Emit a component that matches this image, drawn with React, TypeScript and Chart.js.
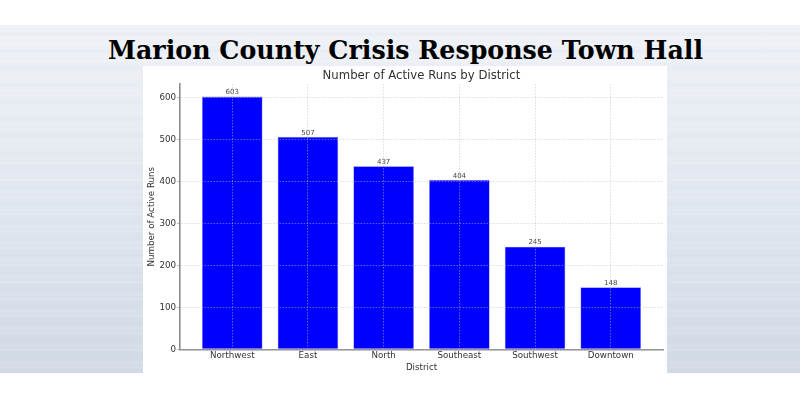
import React, { useEffect, useRef } from "react";
import { Chart, registerables } from "chart.js";

Chart.register(...registerables);

const pageTitle = "Marion County Crisis Response Town Hall";
const chartTitle = "Number of Active Runs by District";
const xAxisTitle = "District";
const yAxisTitle = "Number of Active Runs";
const districts = ["Northwest", "East", "North", "Southeast", "Southwest", "Downtown"];
const activeRuns = [603, 507, 437, 404, 245, 148];
const yTickValues = [0, 100, 200, 300, 400, 500, 600];

const TICK_FONT = { family: "'DejaVu Sans', sans-serif", size: 8.7 };

const valueLabels = {
  id: "valueLabels",
  afterDatasetsDraw(chart: any) {
    const ctx = chart.ctx;
    const meta = chart.getDatasetMeta(0);
    ctx.save();
    ctx.font = "7px 'DejaVu Sans', sans-serif";
    ctx.fillStyle = "#444444";
    ctx.textAlign = "center";
    ctx.textBaseline = "bottom";
    meta.data.forEach((bar: any, i: number) => {
      ctx.fillText(String(activeRuns[i]), bar.x, bar.y - 0.5);
    });
    ctx.restore();
  },
};

export default function App() {
  const canvasRef = useRef<HTMLCanvasElement | null>(null);

  useEffect(() => {
    if (!canvasRef.current) return;
    const chart = new Chart(canvasRef.current, {
      type: "bar",
      data: {
        datasets: [
          {
            data: activeRuns.map((v, i) => ({ x: i, y: v })),
            backgroundColor: "#0000ff",
            borderColor: "rgba(90,90,255,0.8)",
            borderWidth: 0.6,
            barPercentage: 0.8,
            categoryPercentage: 1,
          },
        ],
      },
      options: {
        animation: false,
        responsive: false,
        maintainAspectRatio: false,
        layout: { padding: { left: 0, right: 4, top: 0, bottom: 0 } },
        plugins: {
          legend: { display: false },
          tooltip: { enabled: false },
          title: {
            display: true,
            fullSize: false,
            text: chartTitle,
            color: "#333333",
            font: { family: "'DejaVu Sans', sans-serif", size: 11.7, weight: "normal" },
            padding: { top: 3, bottom: 1 },
          },
        },
        scales: {
          x: {
            type: "linear",
            offset: false,
            min: -0.69,
            max: 5.69,
            afterBuildTicks: (axis: any) => {
              axis.ticks = districts.map((_, i) => ({ value: i }));
            },
            afterFit: (axis: any) => {
              axis.height = 23.7;
            },
            ticks: {
              autoSkip: false,
              maxRotation: 0,
              padding: 1,
              color: "#333333",
              font: TICK_FONT,
              callback: (v: any) => districts[Math.round(Number(v))] ?? "",
            },
            grid: {
              offset: false,
              color: "rgba(190,190,190,0.5)",
              lineWidth: 1,
              drawTicks: false,
              z: 1,
            },
            border: { color: "#8a8a8a", width: 1.6, dash: [1.5, 1.5], z: 1 },
            title: {
              display: true,
              text: xAxisTitle,
              color: "#333333",
              font: TICK_FONT,
              padding: { top: 2, bottom: 0 },
            },
          },
          y: {
            min: 0,
            max: 633,
            afterBuildTicks: (axis: any) => {
              axis.ticks = yTickValues.map((v) => ({ value: v }));
            },
            afterFit: (axis: any) => {
              axis.width = 37;
            },
            ticks: {
              includeBounds: false,
              padding: 1,
              color: "#333333",
              font: TICK_FONT,
            },
            grid: {
              color: "rgba(190,190,190,0.5)",
              lineWidth: 1,
              drawTicks: true,
              tickLength: 3,
              tickColor: "#bbbbbb",
              z: 1,
            },
            border: { color: "#8a8a8a", width: 1.6, dash: [1.5, 1.5], z: 1 },
            title: {
              display: true,
              text: yAxisTitle,
              color: "#333333",
              font: TICK_FONT,
              padding: { top: 4, bottom: 0 },
            },
          },
        },
      },
      plugins: [valueLabels],
    } as any);
    return () => chart.destroy();
  }, []);

  return (
    <div
      style={{
        position: "fixed",
        left: 0,
        top: 0,
        width: 800,
        height: 400,
        background: "#ffffff",
        overflow: "hidden",
      }}
    >
      <div
        style={{
          position: "absolute",
          left: 0,
          top: 25,
          width: 800,
          height: 348,
          background:
            "repeating-linear-gradient(to bottom, rgba(255,255,255,0) 0px, rgba(255,255,255,0.18) 2px, rgba(255,255,255,0) 4px, rgba(255,255,255,0) 7px, rgba(200,210,225,0.12) 9px, rgba(255,255,255,0) 11px, rgba(255,255,255,0.12) 15px, rgba(255,255,255,0) 17px), linear-gradient(to bottom, #eef1f6 0%, #e4e9f1 40%, #d1d9e5 100%)",
        }}
      />
      <div
        style={{
          position: "absolute",
          left: 405.5,
          top: 38,
          transform: "translateX(-50%)",
          whiteSpace: "nowrap",
          fontFamily: "'DejaVu Serif', serif",
          fontWeight: "bold",
          fontSize: 25.3,
          lineHeight: 1,
          color: "#000000",
        }}
      >
        {pageTitle}
      </div>
      <div
        style={{
          position: "absolute",
          left: 143,
          top: 66,
          width: 524,
          height: 307,
          background: "#ffffff",
        }}
      >
        <canvas ref={canvasRef} width={524} height={307} style={{ display: "block" }} />
      </div>
    </div>
  );
}
